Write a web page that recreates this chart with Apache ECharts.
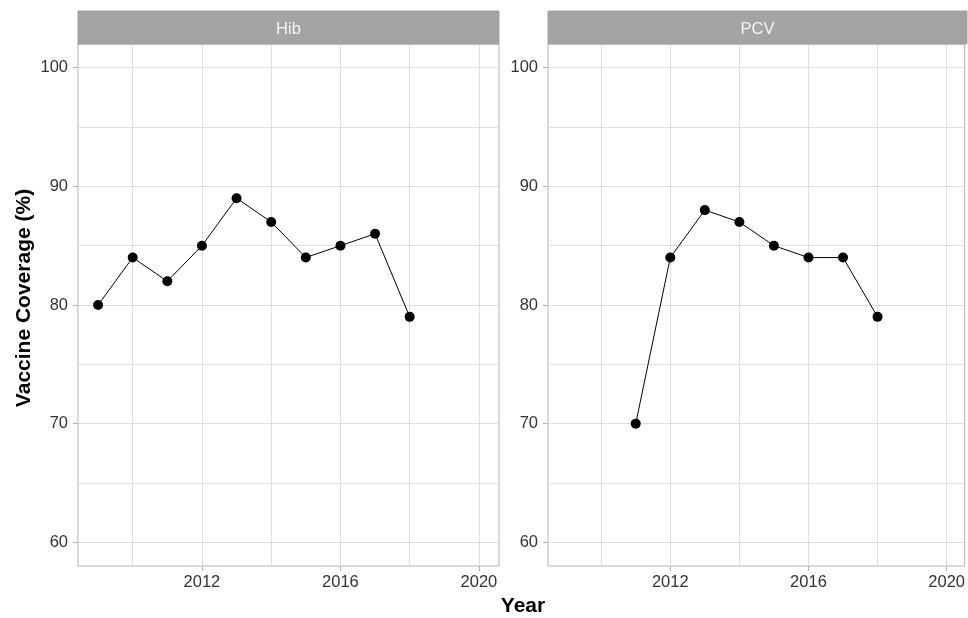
<!DOCTYPE html>
<html>
<head>
<meta charset="utf-8">
<script src="https://cdn.jsdelivr.net/npm/echarts@6/dist/echarts.min.js"></script>
<style>
html,body{margin:0;padding:0;background:#fff;}
#chart{width:968px;height:618px;}
</style>
</head>
<body>
<div id="chart"></div>
<script>
// ---- data ----
const panels = ['Hib', 'PCV'];
const hibYears = [2009, 2010, 2011, 2012, 2013, 2014, 2015, 2016, 2017, 2018];
const hibValues = [80, 84, 82, 85, 89, 87, 84, 85, 86, 79];
const pcvYears = [2011, 2012, 2013, 2014, 2015, 2016, 2017, 2018];
const pcvValues = [70, 84, 88, 87, 85, 84, 84, 79];
const xTickLabels = [2012, 2016, 2020];
const xGridLines = [2010, 2012, 2014, 2016, 2018, 2020];
const yTickLabels = [60, 70, 80, 90, 100];
const yGridLines = [60, 65, 70, 75, 80, 85, 90, 95, 100];
const xTitle = 'Year';
const yTitle = 'Vaccine Coverage (%)';

// ---- layout / style ----
const FONT = '"Liberation Sans", Arial, sans-serif';
const TXT = '#333333';
const BORDER = '#b3b3b3';
const GRIDC = '#dedede';
const STRIP = '#a3a3a3';
const grids = [
  {left: 78, top: 44, width: 421, height: 522},
  {left: 548, top: 44, width: 419, height: 522}
];
const xRanges = [[2008.42, 2020.58], [2008.46, 2020.52]];

function xAxisFor(i) {
  return {
    type: 'value', gridIndex: i, min: xRanges[i][0], max: xRanges[i][1],
    axisLine: {show: false},
    splitLine: {show: false},
    axisTick: {show: true, customValues: xTickLabels, length: 5, lineStyle: {color: BORDER, width: 1}},
    axisLabel: {show: true, customValues: xTickLabels, margin: 8, fontSize: 16.5, color: TXT, fontFamily: FONT,
      formatter: v => String(v)}
  };
}
function yAxisFor(i) {
  return {
    type: 'value', gridIndex: i, min: 58, max: 102,
    axisLine: {show: false},
    splitLine: {show: false},
    axisTick: {show: true, customValues: yTickLabels, length: 5, lineStyle: {color: BORDER, width: 1}},
    axisLabel: {show: true, customValues: yTickLabels, margin: 10, fontSize: 16.5, color: TXT, fontFamily: FONT,
      formatter: v => String(v)}
  };
}
function gridSeries(i) {
  return {
    type: 'line', xAxisIndex: i, yAxisIndex: i, data: [], z: 1, silent: true,
    markLine: {
      silent: true, z: 1, symbol: ['none', 'none'], animation: false,
      label: {show: false},
      lineStyle: {color: GRIDC, width: 1, type: 'solid'},
      emphasis: {disabled: true},
      data: yGridLines.map(v => ({yAxis: v})).concat(xGridLines.map(v => ({xAxis: v})))
    }
  };
}
function dataSeries(i, xs, ys) {
  return {
    type: 'line', xAxisIndex: i, yAxisIndex: i, z: 3,
    data: xs.map((x, k) => [x, ys[k]]),
    symbol: 'circle', symbolSize: 10,
    itemStyle: {color: '#000'},
    lineStyle: {color: '#000', width: 1},
    emphasis: {disabled: true}
  };
}

const graphics = [];
panels.forEach((name, i) => {
  const g = grids[i];
  graphics.push({
    type: 'rect', shape: {x: g.left, y: 11, width: g.width, height: 33},
    style: {fill: STRIP, stroke: STRIP}, z: 10
  });
  graphics.push({
    type: 'text', x: g.left + g.width / 2, y: 29,
    style: {text: name, fill: '#f4f4f4', font: '16.5px ' + FONT, align: 'center', verticalAlign: 'middle'}, z: 11
  });
});
graphics.push({
  type: 'text', x: 523, y: 606,
  style: {text: xTitle, fill: '#000', font: 'bold 21px ' + FONT, align: 'center', verticalAlign: 'middle'}
});
graphics.push({
  type: 'text', x: 24, y: 298, rotation: Math.PI / 2,
  style: {text: yTitle, fill: '#000', font: 'bold 21px ' + FONT, align: 'center', verticalAlign: 'middle'}
});

const chart = echarts.init(document.getElementById('chart'), null, {renderer: 'canvas'});
chart.setOption({
  animation: false,
  backgroundColor: '#ffffff',
  grid: grids.map(g => Object.assign({show: true, backgroundColor: '#ffffff', borderColor: BORDER, borderWidth: 1, containLabel: false}, g)),
  xAxis: [xAxisFor(0), xAxisFor(1)],
  yAxis: [yAxisFor(0), yAxisFor(1)],
  series: [gridSeries(0), gridSeries(1), dataSeries(0, hibYears, hibValues), dataSeries(1, pcvYears, pcvValues)],
  graphic: graphics
});
</script>
</body>
</html>
